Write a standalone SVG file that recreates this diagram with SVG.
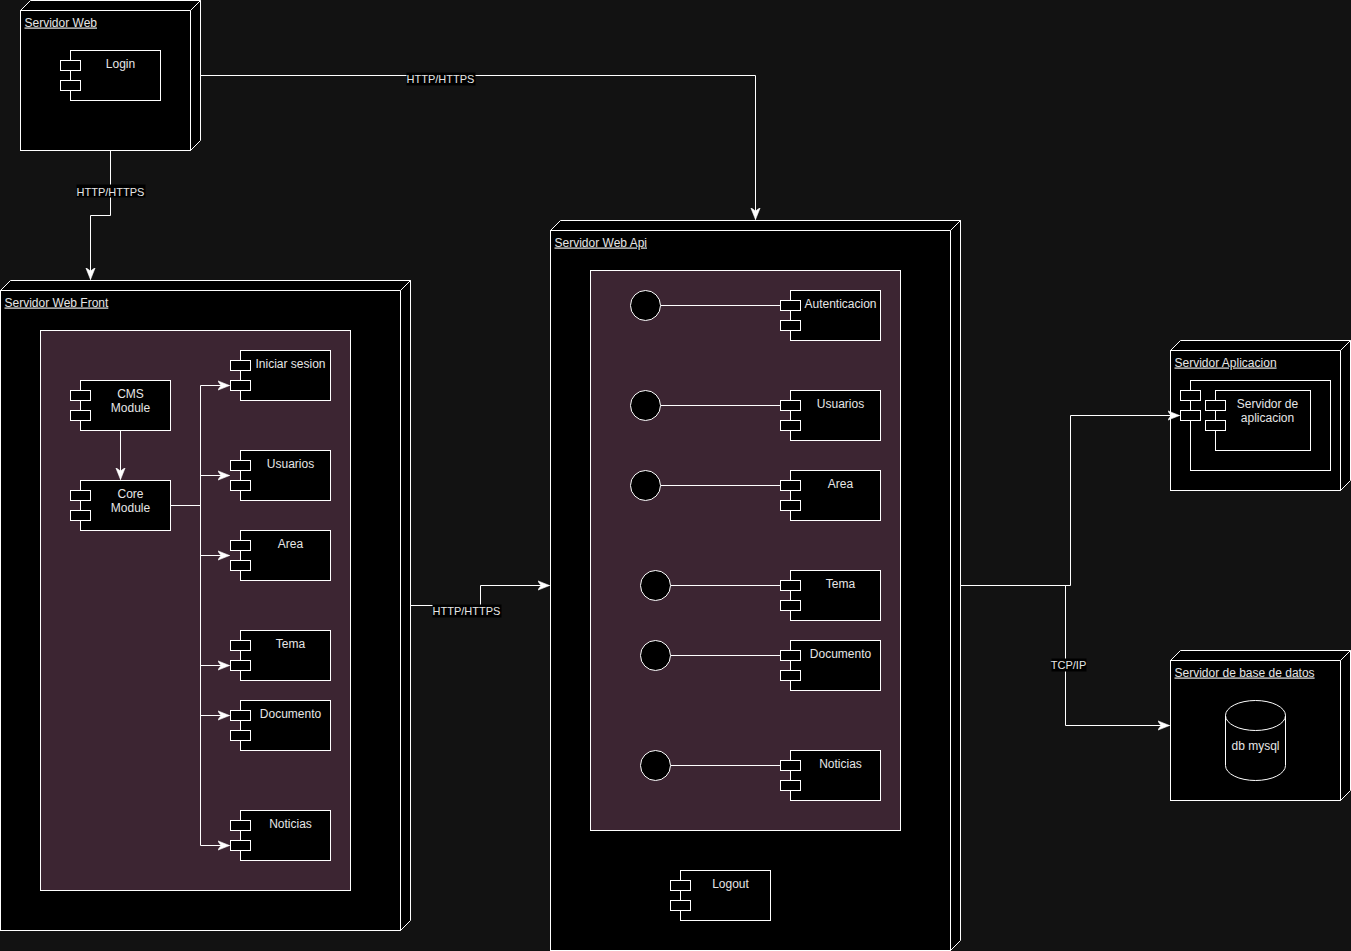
<svg xmlns="http://www.w3.org/2000/svg" width="1351" height="951" viewBox="0 0 1351 951">
<style>
.face{fill:#000;stroke:#fff;stroke-width:1}
.cont{fill:#3c2532;stroke:#fff;stroke-width:1}
.box{fill:#000;stroke:#fff;stroke-width:1}
.t{font-family:"Liberation Sans",Arial,sans-serif;font-size:12px;fill:#e6e6e6}
.tc{text-anchor:middle}
.u{text-decoration:underline}
.el{font-family:"Liberation Sans",Arial,sans-serif;font-size:11px;fill:#e6e6e6;text-anchor:middle}
.lbg{fill:#000}
.edge{fill:none;stroke:#fff;stroke-width:1}
</style>
<defs>
<marker id="arr" markerUnits="userSpaceOnUse" markerWidth="12" markerHeight="12" viewBox="0 0 10 10" refX="10" refY="5" orient="auto">
<path d="M0,1 L10,5 L0,9 L3,5 Z" fill="#fff" stroke="#fff" stroke-width="0.5"/>
</marker>
<g id="comp">
<rect x="0" y="10" width="20" height="10" class="box"/>
<rect x="0" y="30" width="20" height="10" class="box"/>
</g>
</defs>
<rect x="0" y="0" width="1351" height="951" fill="#121212"/>
<g transform="translate(0.5,0.5)">

<!-- Servidor Web -->
<g id="servidor-web">
<rect x="20" y="10" width="170" height="140" class="face"/>
<path d="M20,10 L30,0 L200,0 L190,10 Z" class="face"/>
<path d="M190,10 L200,0 L200,140 L190,150 Z" class="face"/>
<text x="24" y="26" class="t u">Servidor Web</text>
<g id="login">
<rect x="70" y="50" width="90" height="50" class="box"/>
<use href="#comp" x="60" y="50"/>
<text x="120" y="67" class="t tc">Login</text>
</g>
</g>

<!-- Servidor Web Front -->
<g id="servidor-web-front">
<rect x="0" y="290" width="400" height="640" class="face"/>
<path d="M0,290 L10,280 L410,280 L400,290 Z" class="face"/>
<path d="M400,290 L410,280 L410,920 L400,930 Z" class="face"/>
<text x="4" y="306" class="t u">Servidor Web Front</text>
<rect x="40" y="330" width="310" height="560" class="cont"/>
<g id="cms-module">
<rect x="80" y="380" width="90" height="50" class="box"/>
<use href="#comp" x="70" y="380"/>
<text x="130" y="397" class="t tc">CMS</text>
<text x="130" y="411" class="t tc">Module</text>
</g>
<g id="core-module">
<rect x="80" y="480" width="90" height="50" class="box"/>
<use href="#comp" x="70" y="480"/>
<text x="130" y="497" class="t tc">Core</text>
<text x="130" y="511" class="t tc">Module</text>
</g>
<g id="front-iniciar-sesion">
<rect x="240" y="350" width="90" height="50" class="box"/>
<use href="#comp" x="230" y="350"/>
<text x="290" y="367" class="t tc">Iniciar sesion</text>
</g>
<g id="front-usuarios">
<rect x="240" y="450" width="90" height="50" class="box"/>
<use href="#comp" x="230" y="450"/>
<text x="290" y="467" class="t tc">Usuarios</text>
</g>
<g id="front-area">
<rect x="240" y="530" width="90" height="50" class="box"/>
<use href="#comp" x="230" y="530"/>
<text x="290" y="547" class="t tc">Area</text>
</g>
<g id="front-tema">
<rect x="240" y="630" width="90" height="50" class="box"/>
<use href="#comp" x="230" y="630"/>
<text x="290" y="647" class="t tc">Tema</text>
</g>
<g id="front-documento">
<rect x="240" y="700" width="90" height="50" class="box"/>
<use href="#comp" x="230" y="700"/>
<text x="290" y="717" class="t tc">Documento</text>
</g>
<g id="front-noticias">
<rect x="240" y="810" width="90" height="50" class="box"/>
<use href="#comp" x="230" y="810"/>
<text x="290" y="827" class="t tc">Noticias</text>
</g>
</g>

<!-- Servidor Web Api -->
<g id="servidor-web-api">
<rect x="550" y="230" width="400" height="720" class="face"/>
<path d="M550,230 L560,220 L960,220 L950,230 Z" class="face"/>
<path d="M950,230 L960,220 L960,940 L950,950 Z" class="face"/>
<text x="554" y="246" class="t u">Servidor Web Api</text>
<rect x="590" y="270" width="310" height="560" class="cont"/>
<g id="api-autenticacion">
<line x1="660" y1="305" x2="780" y2="305" class="edge"/>
<circle cx="645" cy="305" r="15" class="box"/>
<rect x="790" y="290" width="90" height="50" class="box"/>
<use href="#comp" x="780" y="290"/>
<text x="840" y="307" class="t tc">Autenticacion</text>
</g>
<g id="api-usuarios">
<line x1="660" y1="405" x2="780" y2="405" class="edge"/>
<circle cx="645" cy="405" r="15" class="box"/>
<rect x="790" y="390" width="90" height="50" class="box"/>
<use href="#comp" x="780" y="390"/>
<text x="840" y="407" class="t tc">Usuarios</text>
</g>
<g id="api-area">
<line x1="660" y1="485" x2="780" y2="485" class="edge"/>
<circle cx="645" cy="485" r="15" class="box"/>
<rect x="790" y="470" width="90" height="50" class="box"/>
<use href="#comp" x="780" y="470"/>
<text x="840" y="487" class="t tc">Area</text>
</g>
<g id="api-tema">
<line x1="670" y1="585" x2="780" y2="585" class="edge"/>
<circle cx="655" cy="585" r="15" class="box"/>
<rect x="790" y="570" width="90" height="50" class="box"/>
<use href="#comp" x="780" y="570"/>
<text x="840" y="587" class="t tc">Tema</text>
</g>
<g id="api-documento">
<line x1="670" y1="655" x2="780" y2="655" class="edge"/>
<circle cx="655" cy="655" r="15" class="box"/>
<rect x="790" y="640" width="90" height="50" class="box"/>
<use href="#comp" x="780" y="640"/>
<text x="840" y="657" class="t tc">Documento</text>
</g>
<g id="api-noticias">
<line x1="670" y1="765" x2="780" y2="765" class="edge"/>
<circle cx="655" cy="765" r="15" class="box"/>
<rect x="790" y="750" width="90" height="50" class="box"/>
<use href="#comp" x="780" y="750"/>
<text x="840" y="767" class="t tc">Noticias</text>
</g>
<g id="logout">
<rect x="680" y="870" width="90" height="50" class="box"/>
<use href="#comp" x="670" y="870"/>
<text x="730" y="887" class="t tc">Logout</text>
</g>
</g>

<!-- Servidor Aplicacion -->
<g id="servidor-aplicacion">
<rect x="1170" y="350" width="170" height="140" class="face"/>
<path d="M1170,350 L1180,340 L1350,340 L1340,350 Z" class="face"/>
<path d="M1340,350 L1350,340 L1350,480 L1340,490 Z" class="face"/>
<text x="1174" y="366" class="t u">Servidor Aplicacion</text>
<rect x="1190" y="380" width="140" height="90" class="box"/>
<use href="#comp" x="1180" y="380"/>
<g id="servidor-de-aplicacion">
<rect x="1215" y="390" width="95" height="60" class="box"/>
<use href="#comp" x="1205" y="390"/>
<text x="1267" y="407" class="t tc">Servidor de</text>
<text x="1267" y="421" class="t tc">aplicacion</text>
</g>
</g>

<!-- Servidor de base de datos -->
<g id="servidor-base-datos">
<rect x="1170" y="660" width="170" height="140" class="face"/>
<path d="M1170,660 L1180,650 L1350,650 L1340,660 Z" class="face"/>
<path d="M1340,660 L1350,650 L1350,790 L1340,800 Z" class="face"/>
<text x="1174" y="676" class="t u">Servidor de base de datos</text>
<g id="db-mysql">
<path d="M1225,715 A30,15 0 0 1 1285,715 L1285,765 A30,15 0 0 1 1225,765 Z" class="box"/>
<path d="M1225,715 A30,15 0 0 0 1285,715" class="edge"/>
<text x="1255" y="749" class="t tc">db mysql</text>
</g>
</g>

<!-- Connectors -->
<g id="connectors">
<path d="M200,75 L755,75 L755,219" class="edge" marker-end="url(#arr)"/>
<rect x="406" y="72" width="69" height="13" class="lbg"/>
<text x="440" y="82" class="el">HTTP/HTTPS</text>

<path d="M110,150 L110,215 L90,215 L90,279" class="edge" marker-end="url(#arr)"/>
<rect x="76" y="184" width="69" height="13" class="lbg"/>
<text x="110" y="195" class="el">HTTP/HTTPS</text>

<path d="M410,605 L480,605 L480,585 L549,585" class="edge" marker-end="url(#arr)"/>
<rect x="432" y="604" width="69" height="13" class="lbg"/>
<text x="466" y="614" class="el">HTTP/HTTPS</text>

<path d="M120,430 L120,479" class="edge" marker-end="url(#arr)"/>
<path d="M170,505 L200,505 L200,385 L229,385" class="edge" marker-end="url(#arr)"/>
<path d="M200,505 L200,475 L229,475" class="edge" marker-end="url(#arr)"/>
<path d="M200,505 L200,555 L229,555" class="edge" marker-end="url(#arr)"/>
<path d="M200,505 L200,665 L229,665" class="edge" marker-end="url(#arr)"/>
<path d="M200,505 L200,715 L229,715" class="edge" marker-end="url(#arr)"/>
<path d="M200,505 L200,845 L229,845" class="edge" marker-end="url(#arr)"/>

<path d="M960,585 L1070,585 L1070,415 L1179,415" class="edge" marker-end="url(#arr)"/>
<path d="M960,585 L1065,585 L1065,725 L1169,725" class="edge" marker-end="url(#arr)"/>
<rect x="1051" y="658" width="35" height="13" class="lbg"/>
<text x="1068" y="668" class="el">TCP/IP</text>
</g>
</g>
</svg>
